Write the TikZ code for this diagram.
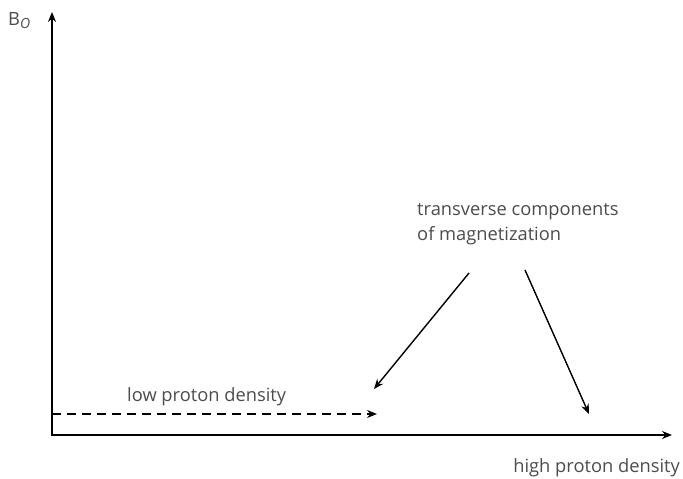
\documentclass[tikz,border=0pt]{standalone}
\usepackage{fontspec}
\setmainfont{Open Sans}
\usetikzlibrary{arrows.meta}
\begin{document}
\begin{tikzpicture}[x=1pt,y=-1pt,
  axis/.style={line width=1.6pt,-{Stealth[length=10pt,width=8pt]}},
  pointer/.style={line width=1.4pt,-{Stealth[length=10pt,width=8pt]}},
  lbl/.style={text=black!70,font=\fontsize{18.3}{25}\selectfont,inner sep=0pt}]
\useasboundingbox (0,0) rectangle (683,479);
\coordinate (O) at (52,435);
\coordinate (ytop) at (52,12);
\coordinate (xend) at (672,435);
\draw[axis] (O) -- (ytop);
\draw[axis] ([xshift=-0.8pt]O) -- (xend);
\coordinate (ds) at (52,414);
\coordinate (de) at (377,414);
\draw[axis,line width=1.4pt,dash pattern=on 9pt off 6pt] (ds) -- (de);
\node[lbl,anchor=base west] (B) at (8,25) {B\raisebox{-0.35ex}{\fontsize{14}{14}\selectfont\itshape O}};
\node[lbl,anchor=base west] (low) at (127,401) {low proton density};
\node[lbl,anchor=base east] (high) at (680,472) {high proton density};
\node[lbl,anchor=north west,align=left] (tc) at (417,203) {transverse components\\of magnetization};
\coordinate (a1s) at (469,273);
\coordinate (a1e) at (374,389);
\coordinate (a2s) at (525,270);
\coordinate (a2e) at (589,414);
\draw[pointer] (a1s) -- (a1e);
\draw[pointer] (a2s) -- (a2e);
\end{tikzpicture}
\end{document}
